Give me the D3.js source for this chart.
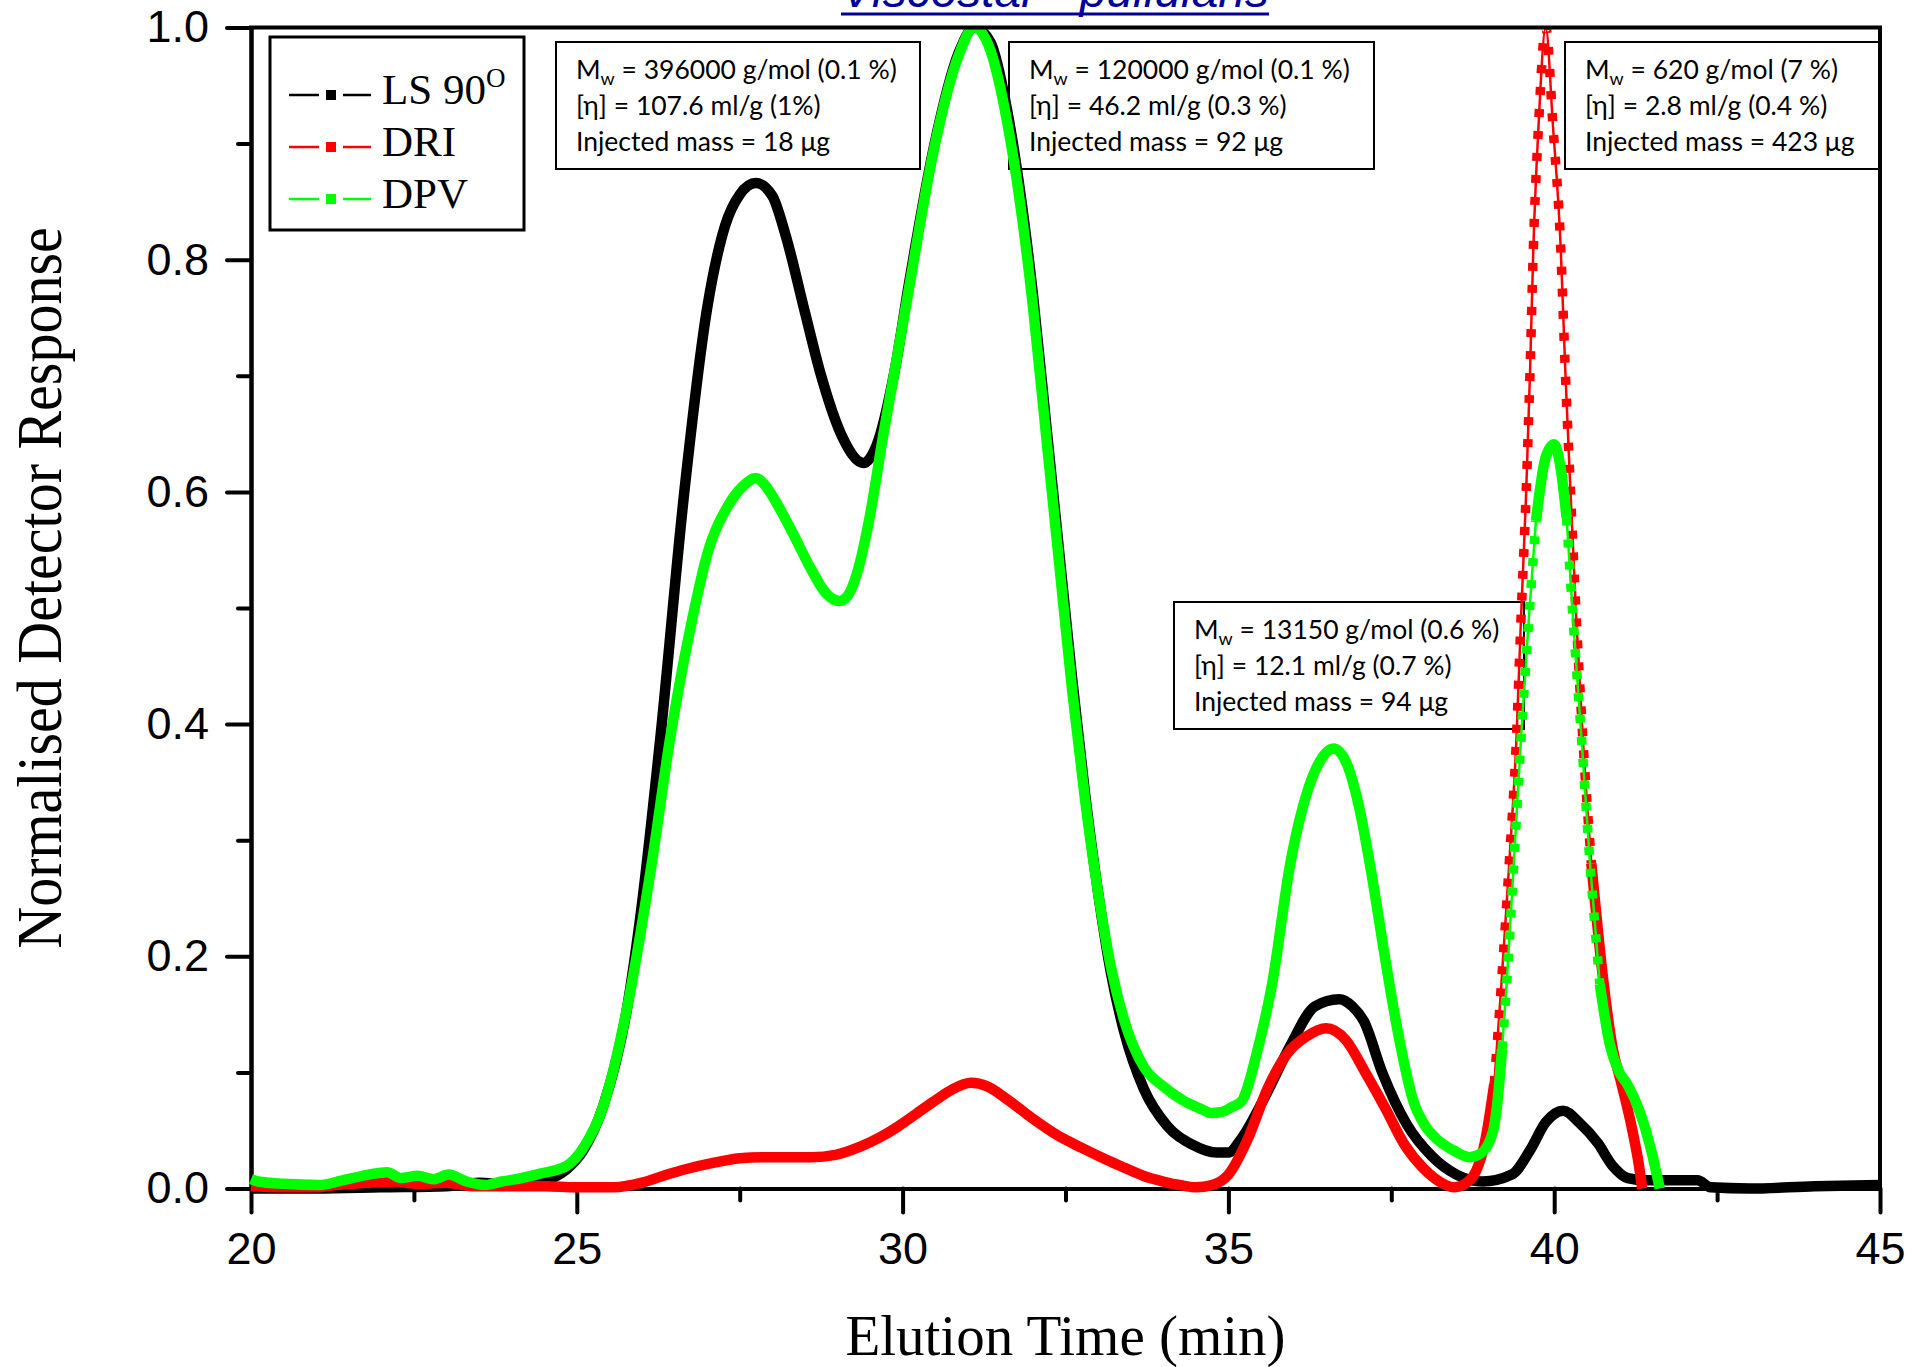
<!DOCTYPE html>
<html>
<head>
<meta charset="utf-8">
<script src="https://cdn.jsdelivr.net/npm/d3@7"></script>
<style>
  html, body { margin: 0; padding: 0; background: #fff; }
  svg { display: block; }
</style>
</head>
<body>
<svg id="chart" width="1927" height="1367"></svg>
<script>
// Normalised detector traces: [elution time (min), response]
const lsPoints = [
  [20.0,0.000],[21.0,0.000],[22.0,0.001],[23.0,0.002],[23.5,0.005],[24.0,0.003],[24.45,0.006],
  [24.83,0.016],[25.1,0.033],[25.4,0.070],[25.77,0.155],[26.0,0.245],[26.28,0.387],[26.65,0.600],
  [27.0,0.758],[27.28,0.830],[27.5,0.856],[27.75,0.866],[28.0,0.855],[28.2,0.822],[28.5,0.755],
  [28.75,0.700],[29.07,0.648],[29.4,0.625],[29.6,0.640],[29.88,0.705],[30.1,0.780],[30.48,0.897],
  [30.86,0.978],[31.1,1.000],[31.35,0.987],[31.6,0.930],[31.8,0.860],[32.0,0.770],[32.2,0.660],
  [32.4,0.550],[32.6,0.440],[32.8,0.340],[33.0,0.255],[33.2,0.185],[33.4,0.135],[33.7,0.086],
  [34.06,0.054],[34.44,0.038],[34.82,0.031],[35.0,0.031],[35.2,0.043],[35.57,0.080],[35.95,0.123],
  [36.33,0.157],[36.7,0.163],[36.9,0.157],[37.08,0.144],[37.36,0.100],[37.74,0.055],[38.12,0.028],
  [38.5,0.012],[38.9,0.006],[39.35,0.012],[39.63,0.033],[39.87,0.057],[40.14,0.067],[40.38,0.057],
  [40.67,0.039],[40.89,0.020],[41.13,0.009],[41.4,0.007],[42.2,0.007],[42.4,0.001],[43.0,0.000],
  [44.0,0.002],[45.0,0.003]
];
const driPoints = [
  [20.0,0.002],[20.5,0.001],[21.0,0.001],[21.3,0.003],[21.8,0.005],[22.2,0.006],[22.6,0.004],
  [23.0,0.005],[23.4,0.002],[24.0,0.002],[24.5,0.002],[25.0,0.001],[25.57,0.001],[26.0,0.005],
  [26.33,0.011],[26.7,0.017],[27.09,0.022],[27.5,0.026],[27.84,0.027],[28.2,0.027],[28.6,0.027],
  [28.97,0.029],[29.35,0.036],[29.65,0.044],[29.92,0.053],[30.2,0.064],[30.48,0.075],[30.75,0.085],
  [31.05,0.091],[31.3,0.088],[31.6,0.077],[32.0,0.060],[32.37,0.046],[32.75,0.035],[33.12,0.025],
  [33.4,0.018],[33.69,0.011],[34.0,0.006],[34.25,0.003],[34.5,0.001],[34.75,0.003],[35.0,0.012],
  [35.3,0.043],[35.6,0.086],[35.9,0.116],[36.2,0.131],[36.5,0.138],[36.8,0.128],[37.1,0.100],
  [37.4,0.070],[37.7,0.038],[38.0,0.017],[38.3,0.004],[38.46,0.001],[38.68,0.006],[38.8,0.015],
  [38.93,0.038],[39.08,0.090],[39.19,0.176],[39.31,0.280],[39.42,0.387],[39.49,0.490],[39.57,0.600],
  [39.63,0.705],[39.68,0.810],[39.76,0.916],[39.87,1.000],[39.98,0.916],[40.10,0.810],[40.17,0.705],
  [40.25,0.600],[40.34,0.490],[40.44,0.387],[40.57,0.280],[40.76,0.176],[40.9,0.120],[41.02,0.093],
  [41.2,0.050],[41.3,0.020],[41.35,0.000]
];
const dpvPoints = [
  [20.0,0.008],[20.11,0.006],[20.5,0.004],[21.05,0.003],[21.4,0.007],[21.81,0.012],[22.09,0.014],
  [22.3,0.009],[22.56,0.011],[22.8,0.008],[23.03,0.012],[23.31,0.006],[23.6,0.003],[23.85,0.006],
  [24.07,0.008],[24.45,0.013],[24.83,0.019],[25.1,0.035],[25.4,0.070],[25.77,0.155],[26.15,0.280],
  [26.43,0.387],[26.77,0.490],[27.0,0.546],[27.32,0.588],[27.55,0.605],[27.75,0.612],[27.9,0.605],
  [28.07,0.590],[28.31,0.565],[28.6,0.533],[28.82,0.513],[29.03,0.506],[29.15,0.510],[29.3,0.530],
  [29.5,0.580],[29.7,0.648],[29.88,0.705],[30.1,0.776],[30.48,0.895],[30.86,0.976],[31.1,1.000],
  [31.35,0.980],[31.6,0.920],[31.8,0.850],[32.0,0.760],[32.2,0.650],[32.4,0.540],[32.6,0.430],
  [32.8,0.335],[33.0,0.255],[33.2,0.190],[33.4,0.145],[33.7,0.105],[34.0,0.088],[34.3,0.076],
  [34.6,0.068],[34.73,0.065],[34.9,0.066],[35.05,0.070],[35.2,0.075],[35.45,0.120],[35.67,0.176],
  [35.95,0.280],[36.23,0.345],[36.45,0.372],[36.61,0.379],[36.8,0.368],[37.0,0.330],[37.2,0.270],
  [37.4,0.200],[37.6,0.135],[37.84,0.075],[38.02,0.054],[38.21,0.042],[38.45,0.033],[38.7,0.027],
  [38.87,0.030],[39.06,0.049],[39.12,0.070],[39.2,0.120],[39.27,0.176],[39.38,0.280],[39.49,0.387],
  [39.61,0.490],[39.72,0.575],[39.87,0.630],[40.0,0.641],[40.1,0.620],[40.19,0.578],[40.29,0.490],
  [40.42,0.387],[40.55,0.280],[40.7,0.176],[40.85,0.125],[41.0,0.100],[41.12,0.090],[41.32,0.065],
  [41.47,0.037],[41.62,0.000]
];

const xTicks = [20, 25, 30, 35, 40, 45];
const xMinorTicks = [22.5, 27.5, 32.5, 37.5, 42.5];
const yTicks = [0, 0.2, 0.4, 0.6, 0.8, 1.0];
const yMinorTicks = [0.1, 0.3, 0.5, 0.7, 0.9];

const seriesNames = ["LS 90", "DRI", "DPV"];
const seriesColors = ["#000000", "#ff0000", "#00ff00"];

// Peak annotations
const noteMw = ["396000 g/mol (0.1 %)", "120000 g/mol (0.1 %)", "620 g/mol (7 %)", "13150 g/mol (0.6 %)"];
const noteEta = ["107.6 ml/g (1%)", "46.2 ml/g (0.3 %)", "2.8 ml/g (0.4 %)", "12.1 ml/g (0.7 %)"];
const noteMass = ["18 μg", "92 μg", "423 μg", "94 μg"];

const titleText = "Viscostar - pullulans";
const xTitle = "Elution Time (min)";
const yTitle = "Normalised Detector Response";

// ---- layout ----
const plot = { left: 251, right: 1880, top: 27.5, bottom: 1188.5 };
const noteBoxes = [
  { x: 556, y: 42, w: 364, h: 127 },
  { x: 1009, y: 42, w: 365, h: 127 },
  { x: 1565, y: 42, w: 315, h: 127 },
  { x: 1174, y: 602, w: 350, h: 127 }
];

const svg = d3.select("#chart");
const x = d3.scaleLinear().domain([20, 45]).range([plot.left, plot.right]);
const y = d3.scaleLinear().domain([0, 1]).range([plot.bottom, plot.top]);

const serif = "'Liberation Serif', 'Times New Roman', serif";
const sans = "'Liberation Sans', Arial, sans-serif";
const noteFont = "Lato, 'Open Sans', sans-serif";

// Title, running off the top edge of the page
svg.append("text")
  .attr("x", 841).attr("y", 7)
  .attr("font-family", sans).attr("font-style", "italic")
  .attr("font-size", 48).attr("fill", "#000099")
  .attr("textLength", 428).attr("lengthAdjust", "spacingAndGlyphs")
  .text(titleText);
svg.append("line")
  .attr("x1", 841).attr("x2", 1269).attr("y1", 14).attr("y2", 14)
  .attr("stroke", "#000099").attr("stroke-width", 3);

// Annotation boxes
noteBoxes.forEach((b, i) => {
  const g = svg.append("g");
  g.append("rect").attr("x", b.x).attr("y", b.y).attr("width", b.w).attr("height", b.h)
    .attr("fill", "#fff").attr("stroke", "#000").attr("stroke-width", 2);
  const tx = b.x + 20;
  const t1 = g.append("text").attr("x", tx).attr("y", b.y + 37)
    .attr("font-family", noteFont).attr("font-size", 26.5).attr("fill", "#000");
  t1.append("tspan").text("M");
  t1.append("tspan").attr("font-size", 18).attr("dy", 6).text("w");
  t1.append("tspan").attr("dy", -6).text(" = " + noteMw[i]);
  g.append("text").attr("x", tx).attr("y", b.y + 73)
    .attr("font-family", noteFont).attr("font-size", 26.5).attr("fill", "#000")
    .text("[η] = " + noteEta[i]);
  g.append("text").attr("x", tx).attr("y", b.y + 109)
    .attr("font-family", noteFont).attr("font-size", 26.5).attr("fill", "#000")
    .text("Injected mass = " + noteMass[i]);
});

// Axes
const axisG = svg.append("g");
axisG.append("g").attr("transform", `translate(0,${plot.bottom})`)
  .call(d3.axisBottom(x).tickValues(xTicks).tickFormat(d3.format("d"))
    .tickSize(24).tickSizeOuter(0).tickPadding(20));
axisG.append("g").attr("transform", `translate(0,${plot.bottom})`)
  .call(d3.axisBottom(x).tickValues(xMinorTicks).tickFormat("").tickSize(12).tickSizeOuter(0));
axisG.append("g").attr("transform", `translate(${plot.left},0)`)
  .call(d3.axisLeft(y).tickValues(yTicks).tickFormat(d3.format(".1f"))
    .tickSize(24).tickSizeOuter(0).tickPadding(18));
axisG.append("g").attr("transform", `translate(${plot.left},0)`)
  .call(d3.axisLeft(y).tickValues(yMinorTicks).tickFormat("").tickSize(13).tickSizeOuter(0));

axisG.selectAll(".domain").attr("stroke", "#000").attr("stroke-width", 4);
axisG.selectAll(".tick line").attr("stroke", "#000").attr("stroke-width", 4).attr("stroke-linecap", "round");
axisG.selectAll(".tick text").attr("font-family", sans).attr("font-size", 45).attr("fill", "#000");

// Axis titles
svg.append("text")
  .attr("x", (plot.left + plot.right) / 2).attr("y", 1355)
  .attr("text-anchor", "middle").attr("font-family", serif).attr("font-size", 57)
  .attr("fill", "#000").text(xTitle);
svg.append("text")
  .attr("transform", "translate(61,588) rotate(-90) scale(1,1.1)")
  .attr("text-anchor", "middle").attr("font-family", serif).attr("font-size", 58)
  .attr("fill", "#000").text(yTitle);

// Traces: samples are dense, so square symbols merge into a thick band except
// where the trace is steep enough that individual symbols separate.
const clipId = "plot-clip";
svg.append("clipPath").attr("id", clipId).append("rect")
  .attr("x", plot.left - 2).attr("y", plot.top).attr("width", plot.right - plot.left + 4)
  .attr("height", plot.bottom - plot.top + 8);

const SYMBOL = 10.5;
const STEEP = 12; // pixel slope above which symbols separate
const lineGen = d3.line().x(d => d[0]).y(d => d[1]).curve(d3.curveMonotoneX);

function splitRuns(points) {
  const px = points.map(d => [x(d[0]), y(d[1])]);
  const runs = [];
  let cur = { steep: null, pts: [px[0]] };
  for (let i = 1; i < px.length; i++) {
    const dx = px[i][0] - px[i - 1][0];
    const dy = Math.abs(px[i][1] - px[i - 1][1]);
    const steep = dy > STEEP * dx;
    if (cur.steep === null) cur.steep = steep;
    if (steep !== cur.steep) {
      runs.push(cur);
      cur = { steep: steep, pts: [px[i - 1]] };
    }
    cur.pts.push(px[i]);
  }
  runs.push(cur);
  return runs;
}

const traces = svg.append("g").attr("clip-path", `url(#${clipId})`);
[lsPoints, driPoints, dpvPoints].forEach((pts, si) => {
  const color = seriesColors[si];
  const g = traces.append("g");
  splitRuns(pts).forEach(run => {
    if (run.steep) {
      g.append("path").attr("d", lineGen(run.pts)).attr("fill", "none")
        .attr("stroke", color).attr("stroke-width", 2.5);
      g.append("path").attr("d", lineGen(run.pts)).attr("fill", "none")
        .attr("stroke", color).attr("stroke-width", SYMBOL - 1)
        .attr("stroke-dasharray", "8 14");
    } else {
      g.append("path").attr("d", lineGen(run.pts)).attr("fill", "none")
        .attr("stroke", color).attr("stroke-width", SYMBOL)
        .attr("stroke-linejoin", "round").attr("stroke-linecap", "butt");
    }
  });
});

// Frame: top and right edges
svg.append("line").attr("x1", plot.left - 2).attr("x2", plot.right + 2)
  .attr("y1", plot.top).attr("y2", plot.top).attr("stroke", "#000").attr("stroke-width", 4);
svg.append("line").attr("x1", plot.right).attr("x2", plot.right)
  .attr("y1", plot.top).attr("y2", plot.bottom).attr("stroke", "#000").attr("stroke-width", 4);

// Legend: line – symbol – line
const legend = svg.append("g");
legend.append("rect").attr("x", 270).attr("y", 37).attr("width", 254).attr("height", 193)
  .attr("fill", "#fff").attr("stroke", "#000").attr("stroke-width", 3);
const legendRows = [95, 147, 199];
seriesNames.forEach((name, i) => {
  const ry = legendRows[i];
  legend.append("line").attr("x1", 289).attr("x2", 319).attr("y1", ry).attr("y2", ry)
    .attr("stroke", seriesColors[i]).attr("stroke-width", 2.5);
  legend.append("line").attr("x1", 343).attr("x2", 371).attr("y1", ry).attr("y2", ry)
    .attr("stroke", seriesColors[i]).attr("stroke-width", 2.5);
  legend.append("rect").attr("x", 331 - 5).attr("y", ry - 5).attr("width", 10).attr("height", 10)
    .attr("fill", seriesColors[i]);
  const t = legend.append("text").attr("x", 382).attr("y", ry + 9)
    .attr("font-family", serif).attr("font-size", 43).attr("fill", "#000").text(name);
  if (i === 0) {
    t.append("tspan").attr("font-size", 27).attr("dy", -17).text("O");
  }
});
</script>
</body>
</html>
